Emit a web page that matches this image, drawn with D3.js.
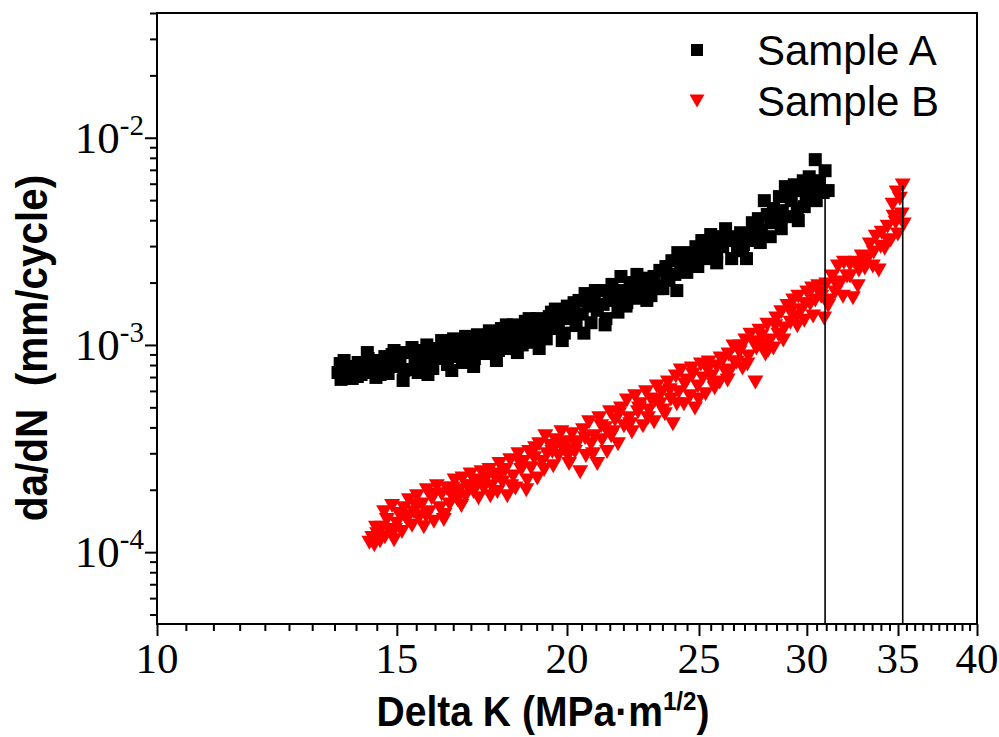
<!DOCTYPE html>
<html><head><meta charset="utf-8">
<script src="https://cdn.jsdelivr.net/npm/d3@7"></script>
<style>body{margin:0;background:#fff}svg{display:block}</style>
</head><body>
<svg id="c" width="999" height="737"></svg>
<script>
// ---- data ----
const seriesNames = ["Sample A", "Sample B"];
const xTitleMain = "Delta K (MPa·m";
const xTitleSup = "1/2";
const yTitle = "da/dN  (mm/cycle)";
const xMajorTicks = [10, 15, 20, 25, 30, 35, 40];
const yMajorTicks = [1e-4, 1e-3, 1e-2];
const yMajorExp = ["-4", "-3", "-2"];

const sampleA_dK = [
13.58,13.63,13.65,13.70,13.77,13.84,13.91,13.98,14.05,14.12,
14.20,14.27,14.34,14.41,14.48,14.56,14.63,14.70,14.78,14.85,
14.93,15.00,15.08,15.16,15.24,15.31,15.39,15.47,15.55,15.63,
15.70,15.78,15.86,15.94,16.02,16.10,16.18,16.26,16.34,16.43,
16.51,16.59,16.68,16.76,16.85,16.93,17.02,17.10,17.19,17.28,
17.37,17.45,17.54,17.63,17.72,17.81,17.90,17.99,18.08,18.17,
18.26,18.36,18.45,18.54,18.64,18.73,18.82,18.92,19.02,19.11,
19.21,19.31,19.41,19.51,19.61,19.71,19.81,19.91,20.01,20.11,
20.21,20.31,20.41,20.52,20.62,20.72,20.83,20.94,21.05,21.15,
21.26,21.36,21.47,21.58,21.69,21.80,21.91,22.02,22.13,22.25,
22.36,22.47,22.59,22.70,22.82,22.93,23.05,23.17,23.28,23.40,
23.52,23.64,23.76,23.88,24.00,24.12,24.24,24.37,24.49,24.62,
24.74,24.87,24.99,25.12,25.24,25.37,25.50,25.63,25.76,25.89,
26.02,26.15,26.28,26.42,26.55,26.68,26.82,26.95,27.09,27.23,
27.36,27.50,27.64,27.78,27.92,28.06,28.20,28.35,28.49,28.64,
28.78,28.93,29.08,29.22,29.37,29.52,29.67,29.82,29.97,30.12,
30.27,30.43,30.63,30.84,31.10,
13.72,14.03,14.29,14.58,14.88,15.18,15.50,15.81,16.13,16.46,
16.73,17.08,17.42,17.75,18.05,18.39,18.76,19.08,19.48,19.84,
20.24,20.58,20.98,21.33,21.73,22.10,22.51,22.89,23.32,23.68,
24.08,24.41,24.95,25.33,25.76,26.42,26.91,27.41,27.73,28.25,
28.73,29.18,29.57,29.87,30.17,30.48,
30.94];
const sampleA_rate = [
7.36e-4,8.13e-4,6.82e-4,7.70e-4,7.12e-4,7.87e-4,6.89e-4,7.53e-4,8.23e-4,7.20e-4,
7.70e-4,9.19e-4,7.36e-4,8.05e-4,6.97e-4,8.41e-4,7.70e-4,8.79e-4,7.28e-4,8.23e-4,
9.40e-4,7.87e-4,8.60e-4,6.74e-4,9.19e-4,7.61e-4,9.72e-4,8.41e-4,7.36e-4,9.40e-4,
8.13e-4,1.00e-3,8.79e-4,7.70e-4,9.61e-4,8.60e-4,1.05e-3,9.19e-4,8.05e-4,9.93e-4,
1.07e-3,8.79e-4,9.82e-4,8.23e-4,1.10e-3,9.40e-4,1.03e-3,8.60e-4,1.12e-3,9.82e-4,
1.07e-3,9.09e-4,1.17e-3,1.00e-3,1.10e-3,9.40e-4,1.20e-3,1.05e-3,1.14e-3,9.61e-4,
1.25e-3,1.07e-3,1.17e-3,1.00e-3,1.30e-3,1.12e-3,1.23e-3,1.03e-3,1.34e-3,1.17e-3,
1.28e-3,1.07e-3,1.37e-3,1.20e-3,1.49e-3,1.28e-3,1.41e-3,1.14e-3,1.54e-3,1.34e-3,
1.47e-3,1.24e-3,1.64e-3,1.41e-3,1.77e-3,1.54e-3,1.28e-3,1.68e-3,1.47e-3,1.83e-3,
1.57e-3,1.34e-3,1.75e-3,1.96e-3,1.64e-3,1.44e-3,2.14e-3,1.83e-3,1.60e-3,2.00e-3,
1.71e-3,1.92e-3,1.68e-3,2.10e-3,1.83e-3,2.00e-3,1.73e-3,2.14e-3,1.92e-3,2.29e-3,
1.87e-3,2.39e-3,2.05e-3,2.55e-3,2.19e-3,2.79e-3,2.34e-3,2.61e-3,2.24e-3,2.79e-3,
2.49e-3,2.98e-3,2.61e-3,3.19e-3,2.85e-3,2.61e-3,3.41e-3,3.05e-3,2.79e-3,3.33e-3,
2.98e-3,3.64e-3,3.19e-3,2.61e-3,3.26e-3,2.85e-3,3.48e-3,3.05e-3,2.61e-3,3.41e-3,
3.89e-3,3.19e-3,4.07e-3,3.56e-3,4.97e-3,4.26e-3,3.33e-3,4.55e-3,4.07e-3,5.20e-3,
4.45e-3,5.81e-3,4.16e-3,4.97e-3,5.93e-3,4.55e-3,5.56e-3,6.20e-3,5.08e-3,6.48e-3,
5.56e-3,7.84e-3,6.20e-3,5.44e-3,5.56e-3,
8.41e-4,7.04e-4,8.60e-4,7.20e-4,8.99e-4,7.53e-4,9.19e-4,7.20e-4,9.19e-4,7.53e-4,
1.05e-3,7.87e-4,1.03e-3,8.41e-4,1.25e-3,9.19e-4,1.34e-3,9.61e-4,1.44e-3,1.05e-3,
1.60e-3,1.14e-3,1.83e-3,1.25e-3,1.79e-3,1.54e-3,2.19e-3,1.64e-3,1.87e-3,2.14e-3,
1.83e-3,2.44e-3,2.39e-3,3.19e-3,2.49e-3,3.33e-3,2.91e-3,3.56e-3,3.12e-3,3.89e-3,
3.64e-3,5.20e-3,3.98e-3,4.65e-3,5.81e-3,4.97e-3,
6.93e-3];

const sampleB_dK = [
14.32,14.39,14.44,14.51,14.58,14.63,14.70,14.75,14.83,14.88,
14.93,15.00,15.05,15.13,15.18,15.26,15.31,15.39,15.44,15.52,
15.57,15.65,15.70,15.78,15.84,15.91,15.97,16.05,16.13,16.18,
16.26,16.32,16.40,16.46,16.54,16.62,16.68,16.76,16.85,16.90,
16.99,17.08,17.13,17.22,17.31,17.37,17.45,17.54,17.60,17.69,
17.78,17.84,17.93,18.02,18.08,18.17,18.26,18.33,18.42,18.51,
18.58,18.67,18.76,18.82,18.92,19.02,19.08,19.18,19.28,19.34,
19.44,19.54,19.61,19.71,19.81,19.91,19.97,20.07,20.17,20.27,
20.34,20.45,20.55,20.65,20.76,20.83,20.94,21.05,21.12,21.22,
21.33,21.40,21.51,21.62,21.69,21.80,21.91,22.02,22.13,22.21,
22.32,22.44,22.55,22.63,22.74,22.86,22.97,23.05,23.17,23.28,
23.40,23.48,23.60,23.72,23.84,23.92,24.04,24.16,24.24,24.37,
24.49,24.62,24.70,24.83,24.95,25.08,25.16,25.28,25.41,25.54,
25.67,25.76,25.89,26.02,26.15,26.28,26.37,26.50,26.64,26.77,
26.91,27.04,27.18,27.27,27.50,27.55,27.69,27.83,27.97,28.06,
28.20,28.35,28.49,28.59,28.73,28.88,29.03,29.18,29.32,29.47,
29.57,29.72,29.87,30.02,30.17,30.27,30.43,30.58,30.74,30.89,
31.00,31.16,31.31,31.47,31.62,31.78,31.94,32.11,32.27,32.43,
32.59,32.76,32.92,33.09,33.26,33.37,33.54,33.71,33.88,34.05,
34.22,34.39,34.57,34.68,34.86,34.99,35.11,35.22,35.34,
14.48,14.68,14.95,15.21,15.49,15.76,15.99,16.24,16.48,16.73,
17.02,17.28,17.57,17.87,18.20,18.48,18.70,18.95,19.24,19.51,
19.78,20.04,20.31,20.62,20.90,21.19,21.55,21.84,22.25,22.59,
22.93,23.21,23.52,23.80,24.08,24.41,24.74,24.99,25.37,25.63,
25.93,26.24,26.55,26.82,27.13,27.41,27.78,28.11,28.44,28.83,
29.18,29.52,29.92,30.32,30.69,31.10,31.52,31.89,32.27,32.70,
33.03,33.59,33.99,34.39,34.74,34.92,
35.28];
const sampleB_rate = [
1.11e-4,1.17e-4,1.08e-4,1.22e-4,1.13e-4,1.31e-4,1.18e-4,1.43e-4,1.25e-4,1.67e-4,
1.14e-4,1.37e-4,1.53e-4,1.25e-4,1.63e-4,1.43e-4,1.78e-4,1.34e-4,1.56e-4,1.86e-4,
1.46e-4,1.70e-4,1.32e-4,1.99e-4,1.56e-4,1.82e-4,1.40e-4,2.08e-4,1.63e-4,1.90e-4,
1.51e-4,2.03e-4,1.70e-4,1.86e-4,2.22e-4,1.78e-4,1.99e-4,2.27e-4,1.86e-4,2.08e-4,
2.37e-4,1.95e-4,2.17e-4,1.82e-4,2.43e-4,2.03e-4,2.27e-4,2.49e-4,2.08e-4,2.32e-4,
1.95e-4,2.66e-4,2.17e-4,2.49e-4,1.86e-4,2.78e-4,2.32e-4,2.03e-4,2.97e-4,2.49e-4,
2.72e-4,1.99e-4,3.04e-4,2.54e-4,2.84e-4,2.27e-4,3.32e-4,2.72e-4,3.63e-4,2.97e-4,
3.25e-4,2.60e-4,3.47e-4,2.91e-4,3.79e-4,3.11e-4,3.39e-4,2.66e-4,3.71e-4,3.04e-4,
3.39e-4,2.43e-4,3.88e-4,2.91e-4,4.23e-4,3.32e-4,3.63e-4,2.66e-4,4.43e-4,3.47e-4,
3.96e-4,3.04e-4,4.73e-4,3.79e-4,4.33e-4,3.32e-4,4.94e-4,4.05e-4,5.40e-4,4.43e-4,
3.79e-4,5.65e-4,4.73e-4,5.17e-4,4.05e-4,5.91e-4,4.83e-4,5.46e-4,4.23e-4,6.31e-4,
5.17e-4,5.91e-4,4.63e-4,6.59e-4,5.46e-4,4.14e-4,7.05e-4,5.91e-4,7.53e-4,5.17e-4,
6.74e-4,5.65e-4,7.70e-4,4.94e-4,6.31e-4,8.05e-4,6.89e-4,5.78e-4,8.23e-4,7.05e-4,
6.18e-4,7.87e-4,6.59e-4,8.41e-4,7.36e-4,8.99e-4,7.53e-4,9.82e-4,8.23e-4,9.19e-4,
7.70e-4,1.05e-3,8.79e-4,1.12e-3,6.59e-4,9.61e-4,1.17e-3,1.00e-3,8.99e-4,1.25e-3,
1.05e-3,9.61e-4,1.34e-3,1.12e-3,1.44e-3,1.20e-3,1.54e-3,1.28e-3,1.64e-3,1.37e-3,
1.71e-3,1.47e-3,1.31e-3,1.79e-3,1.57e-3,1.87e-3,1.64e-3,1.92e-3,1.71e-3,1.34e-3,
1.96e-3,1.64e-3,2.14e-3,1.79e-3,2.39e-3,2.00e-3,2.49e-3,2.14e-3,2.44e-3,1.68e-3,
2.49e-3,2.29e-3,2.67e-3,2.34e-3,2.61e-3,3.05e-3,2.39e-3,3.33e-3,2.29e-3,3.48e-3,
2.91e-3,3.72e-3,3.19e-3,4.75e-3,3.89e-3,3.41e-3,5.08e-3,4.26e-3,3.81e-3,
1.31e-4,1.56e-4,1.28e-4,1.49e-4,1.67e-4,1.49e-4,1.90e-4,1.43e-4,2.03e-4,1.67e-4,
2.08e-4,2.22e-4,1.86e-4,2.37e-4,2.08e-4,2.66e-4,2.22e-4,3.17e-4,2.49e-4,3.04e-4,
3.32e-4,2.91e-4,3.25e-4,3.55e-4,2.97e-4,4.05e-4,3.63e-4,4.63e-4,4.14e-4,4.94e-4,
4.43e-4,5.40e-4,4.83e-4,6.04e-4,5.17e-4,6.45e-4,7.20e-4,5.46e-4,7.53e-4,6.45e-4,
8.60e-4,6.74e-4,8.23e-4,9.82e-4,8.05e-4,1.03e-3,1.10e-3,9.40e-4,1.23e-3,1.05e-3,
1.44e-3,1.23e-3,1.57e-3,1.37e-3,1.79e-3,1.54e-3,1.96e-3,1.71e-3,2.14e-3,1.92e-3,
2.49e-3,2.79e-3,2.98e-3,3.19e-3,4.16e-3,5.44e-3,
5.88e-3];

// ---- layout ----
const L = 157, R = 977, T = 13, B = 624;
const svg = d3.select("#c");
const x = d3.scaleLog().domain([10, 40]).range([L, R]);
const y = d3.scaleLog().domain([4.5e-5, 0.04]).range([B, T]);

const serif = "'Liberation Serif','Times New Roman',serif";
const sans = "'Liberation Sans',Arial,sans-serif";

// minor ticks
const xMinor = d3.range(10, 40.001, 0.5).filter(v => !xMajorTicks.includes(v));
const yMinor = [];
for (let e = -5; e <= -2; e++) for (let k = 2; k <= 9; k++) {
  const v = k * Math.pow(10, e);
  if (v >= y.domain()[0] && v <= y.domain()[1]) yMinor.push(v);
}

function styleAxis(g) {
  g.select(".domain").remove();
  g.selectAll(".tick line").attr("stroke", "#000").attr("stroke-width", 2);
}
svg.append("g").attr("transform", `translate(0,${B})`)
  .call(d3.axisBottom(x).tickValues(xMinor).tickSize(7).tickSizeOuter(0).tickFormat(""))
  .call(styleAxis);
svg.append("g").attr("transform", `translate(0,${B})`)
  .call(d3.axisBottom(x).tickValues(xMajorTicks).tickSize(12).tickSizeOuter(0).tickFormat(""))
  .call(styleAxis);
svg.append("g").attr("transform", `translate(${L},0)`)
  .call(d3.axisLeft(y).tickValues(yMinor).tickSize(7).tickSizeOuter(0).tickFormat(""))
  .call(styleAxis);
svg.append("g").attr("transform", `translate(${L},0)`)
  .call(d3.axisLeft(y).tickValues(yMajorTicks).tickSize(12).tickSizeOuter(0).tickFormat(""))
  .call(styleAxis);

// frame
svg.append("rect").attr("x", L).attr("y", T).attr("width", R - L).attr("height", B - T)
  .attr("fill", "none").attr("stroke", "#000").attr("stroke-width", 2);

// x tick labels
svg.append("g").selectAll("text").data(xMajorTicks).join("text")
  .attr("x", d => x(d)).attr("y", B + 49)
  .attr("text-anchor", "middle")
  .attr("font-family", serif).attr("font-size", 43).attr("fill", "#000")
  .text(d => d);

// y tick labels
const yl = svg.append("g").selectAll("text").data(yMajorTicks).join("text")
  .attr("x", L - 13).attr("y", d => y(d) + 15)
  .attr("text-anchor", "end")
  .attr("font-family", serif).attr("font-size", 45).attr("fill", "#000");
yl.append("tspan").text("10");
yl.append("tspan").attr("font-size", 29).attr("dy", -18).text((d, i) => yMajorExp[i]);

// markers
const A = sampleA_dK.map((d, i) => [d, sampleA_rate[i]]);
const Bd = sampleB_dK.map((d, i) => [d, sampleB_rate[i]]);
const sq = 13;
svg.append("g").selectAll("rect").data(A).join("rect")
  .attr("x", d => x(d[0]) - sq / 2).attr("y", d => y(d[1]) - sq / 2)
  .attr("width", sq).attr("height", sq).attr("fill", "#000");
const tri = "M-8,-7L8,-7L0,7Z";
svg.append("g").selectAll("path").data(Bd).join("path")
  .attr("transform", d => `translate(${x(d[0])},${y(d[1])})`)
  .attr("d", tri).attr("fill", "#ff0000");

// drop lines from final point of each series
[A, Bd].forEach(s => {
  const p = s[s.length - 1];
  svg.append("line").attr("x1", x(p[0])).attr("x2", x(p[0]))
    .attr("y1", y(p[1])).attr("y2", B)
    .attr("stroke", "#000").attr("stroke-width", 1.6);
});

// legend
const lg = svg.append("g");
lg.append("rect").attr("x", 697 - 6).attr("y", 50 - 6).attr("width", 12).attr("height", 12).attr("fill", "#000");
lg.append("path").attr("transform", "translate(697,101)").attr("d", "M-7.5,-6.5L7.5,-6.5L0,6.5Z").attr("fill", "#ff0000");
lg.selectAll("text").data(seriesNames).join("text")
  .attr("x", 757).attr("y", (d, i) => 65 + i * 51)
  .attr("font-family", sans).attr("font-size", 42).attr("fill", "#000")
  .text(d => d);

// axis titles
const xt = svg.append("text").attr("transform", "translate(543,726) scale(0.93,1)")
  .attr("text-anchor", "middle")
  .attr("font-family", sans).attr("font-weight", "bold").attr("font-size", 42).attr("fill", "#000");
xt.append("tspan").text(xTitleMain);
xt.append("tspan").attr("font-size", 26).attr("dy", -16).text(xTitleSup);
xt.append("tspan").attr("dy", 16).text(")");

svg.append("text").attr("transform", "translate(47,348) rotate(-90) scale(0.92,1)")
  .attr("text-anchor", "middle")
  .attr("font-family", sans).attr("font-weight", "bold").attr("font-size", 44)
  .attr("fill", "#000").style("white-space", "pre")
  .text(yTitle);
</script>
</body></html>
